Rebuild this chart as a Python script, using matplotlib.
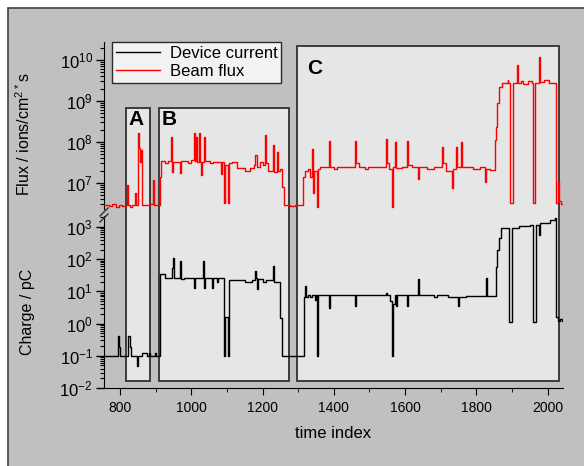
import matplotlib
matplotlib.use("Agg")
import matplotlib.pyplot as plt
from matplotlib.patches import Rectangle
from matplotlib.lines import Line2D
from matplotlib.ticker import LogLocator, FixedLocator, MultipleLocator

plt.rcParams['font.family'] = ['Liberation Sans', 'DejaVu Sans']
plt.rcParams['mathtext.default'] = 'regular'

# ---------------- DATA ----------------
flux_t = [755, 770, 778, 790, 798, 806, 814, 820, 822, 828, 834, 842, 845, 850, 853, 856, 859, 862,
          884, 893, 895, 912, 915, 926, 935, 943, 946, 949, 968, 970, 990, 1000, 1008, 1010, 1013,
          1016, 1022, 1024, 1027, 1030, 1036, 1039, 1052, 1060, 1083, 1086, 1092, 1095, 1103, 1106,
          1115, 1128, 1151, 1165, 1175, 1179, 1184, 1193, 1200, 1207, 1210, 1215, 1229, 1232, 1240,
          1243, 1249, 1254, 1260, 1277, 1290, 1313, 1319, 1327, 1333, 1339, 1341, 1344, 1353, 1356,
          1361, 1386, 1388, 1400, 1410, 1459, 1462, 1470, 1487, 1495, 1546, 1549, 1555, 1563, 1566,
          1571, 1574, 1590, 1605, 1608, 1620, 1636, 1639, 1660, 1680, 1703, 1706, 1715, 1731, 1734,
          1742, 1745, 1757, 1760, 1790, 1810, 1824, 1827, 1838, 1852, 1855, 1858, 1864, 1872, 1888,
          1890, 1893, 1902, 1914, 1916, 1925, 1932, 1945, 1956, 1959, 1964, 1975, 1978, 1990, 2005,
          2023, 2028, 2031, 2038, 2048]
flux_v = [2.9e6, 2.7e6, 3.0e6, 2.6e6, 2.9e6, 2.7e6, 2.9e6, 8.9e6, 2.9e6, 2.6e6, 2.9e6, 5.7e6, 2.9e6,
          1.65e8, 7e7, 3.3e7, 6.4e7, 2.9e6,
          3.0e6, 1.2e7, 2.9e6, 1.4e7, 3.4e7, 3.1e7, 3.4e7, 1.3e8, 1.85e7, 3.3e7, 1.75e7, 3.4e7, 3.1e7,
          3.6e7, 1.65e8, 3.4e7, 1.3e8,
          3.3e7, 1.65e8, 3.3e7, 1.57e7, 3.3e7, 1.3e8, 3.5e7, 3.0e7, 3.3e7, 1.6e7, 3.2e7, 3.3e6, 2.8e7,
          3.3e6, 3.0e7,
          3.3e7, 2.3e7, 2.0e7, 2.3e7, 2.7e7, 4.8e7, 2.5e7, 3.3e7, 2.7e7, 1.48e8, 3e7, 2.0e7, 8.4e7,
          1.8e7, 5.7e7,
          2.0e7, 2.2e7, 8e6, 2.9e6, 2.7e6, 2.9e6, 1.4e7, 1.9e7, 2.2e7, 1.4e7, 6.8e7, 5.7e6, 2.0e7,
          2.6e6, 2.2e7,
          2.45e7, 1.06e8, 2.45e7, 2.2e7, 2.45e7, 1.06e8, 3.0e7, 2.45e7, 2.2e7, 2.45e7, 1.18e8, 3e7,
          2.2e7, 2.6e6, 2.45e7,
          1.0e8, 2.3e7, 2.45e7, 1.06e8, 2.8e7, 2.45e7, 1.25e7, 2.45e7, 2.2e7, 2.45e7, 7.5e7, 3.0e7,
          2.0e7, 7.5e6, 2.2e7,
          7.5e7, 2.45e7, 1.0e8, 2.45e7, 2.2e7, 2.45e7, 1.06e7, 2.2e7, 2.07e7, 1.1e8, 2.3e8, 8.9e8,
          2.2e9, 2.75e9, 3.3e9,
          2.75e9, 3.2e6, 2.75e9, 7.6e9, 2.75e9, 3.1e9, 2.6e9, 3.0e9, 2.75e9, 3.2e6, 2.75e9, 1.17e10,
          2.9e9, 3.2e9, 2.75e9,
          3.2e6, 1.06e7, 3.6e6, 3.0e6, 3.0e6]

charge_t = [755, 794, 797, 800, 822, 828, 831, 848, 851, 862, 876, 880, 884, 898, 901, 912, 925, 946,
            949, 952, 968, 971, 980, 1008, 1011, 1033, 1036, 1039, 1058, 1061, 1072, 1075, 1092, 1094,
            1102, 1105, 1150, 1170, 1179, 1182, 1184, 1187, 1200, 1210, 1229, 1232, 1249, 1254, 1316,
            1319, 1322, 1327, 1333, 1340, 1347, 1351, 1353, 1356, 1386, 1389, 1459, 1462, 1546, 1549,
            1558, 1563, 1566, 1571, 1574, 1577, 1605, 1608, 1636, 1639, 1680, 1690, 1720, 1748, 1751,
            1770, 1827, 1830, 1854, 1858, 1864, 1870, 1891, 1899, 1920, 1950, 1959, 1967, 1975, 1978,
            2006, 2020, 2023, 2028, 2034, 2040, 2048]
charge_v = [0.1, 0.41, 0.19, 0.1, 0.41, 0.19, 0.1, 0.049, 0.1, 0.12, 0.1, 0.12, 0.1, 0.12, 0.1, 36,
            27, 52, 113, 27, 85, 25, 27, 12.5, 27, 85, 12.5, 27, 12.5, 27, 20, 27, 0.1, 1.6, 0.1, 22,
            20, 22, 42, 27, 11.7, 25, 19, 22, 60, 19, 1.5, 0.1, 6.6, 14.5, 6.6, 8, 6.6, 8, 5.5, 7.6,
            0.1, 7.6, 3.0, 7.6, 3.4, 7.6, 9, 7.6, 5, 0.1, 4, 7.6, 3.4, 7.6, 3.4, 7.6, 25, 7.6, 6.6,
            7.6, 6.6, 3.4, 6.6, 7.1, 26, 7.1, 56, 200, 470, 950, 1.1, 950, 1050, 1180, 1.1, 1180, 580,
            1300, 1700, 1950, 1.6, 1.2, 1.4, 1.2, 1.3]

# regions A, B, C: start/end in time index, top in flux units, bottom in charge units
region_names = ['A', 'B', 'C']
region_start = [817, 909, 1296]
region_end = [884, 1274, 2031]
region_top = [6.7e8, 6.7e8, 2.2e10]
region_bottom = [0.017, 0.017, 0.017]
region_label_x = [845, 937, 1347]
region_label_y = [3.5e8, 3.5e8, 6.3e9]

# ---------------- FIGURE ----------------
W, H = 584, 466
fig = plt.figure(figsize=(W / 100, H / 100), dpi=100, facecolor='white')

# gray panel behind everything
fig.patches.append(Rectangle((8 / W, -0.01), 1.0, 1 - 8 / H + 0.01, transform=fig.transFigure,
                             facecolor='#c0c0c0', edgecolor='#404040', lw=1.2, zorder=-2))

left, right = 104 / W, 563 / W
ax_top = fig.add_axes([left, 1 - 209 / H, right - left, (209 - 42) / H], facecolor='none')
ax_bot = fig.add_axes([left, 1 - 388 / H, right - left, (388 - 216) / H], facecolor='none',
                      sharex=ax_top)
ax_top.set_zorder(2)
ax_bot.set_zorder(1)

ax_top.set_yscale('log')
ax_bot.set_yscale('log')
ax_top.set_xlim(755, 2043)
ax_top.set_ylim(2.3e6, 2.75e10)
ax_bot.set_ylim(1e-2, 2.2e3)

ax_top.step(flux_t, flux_v, where='post', color='#ff0000', lw=1.0, zorder=3)
ax_bot.step(charge_t, charge_v, where='post', color='black', lw=1.0, zorder=3)

for ax in (ax_top, ax_bot):
    ax.spines['top'].set_visible(False)
    ax.spines['right'].set_visible(False)
    ax.tick_params(axis='y', which='major', direction='out', length=6, width=1, labelsize=12, pad=2)
    ax.tick_params(axis='y', which='minor', direction='out', length=3, width=0.8)
    ax.yaxis.set_minor_locator(LogLocator(base=10, subs=range(2, 10), numticks=20))
ax_top.spines['bottom'].set_visible(False)
ax_top.tick_params(axis='x', which='both', bottom=False, labelbottom=False)
ax_top.yaxis.set_major_locator(FixedLocator([1e7, 1e8, 1e9, 1e10]))
ax_bot.yaxis.set_major_locator(FixedLocator([1e-2, 1e-1, 1e0, 1e1, 1e2, 1e3]))

ax_bot.xaxis.set_major_locator(MultipleLocator(200))
ax_bot.xaxis.set_minor_locator(MultipleLocator(100))
ax_bot.tick_params(axis='x', which='major', direction='out', length=5, labelsize=10, pad=4)
ax_bot.tick_params(axis='x', which='minor', direction='out', length=3)
ax_bot.set_xlabel('time index', fontsize=12, labelpad=8)

ax_top.set_ylabel('Flux / ions/cm$^{2*}$s', fontsize=11.5)
ax_top.yaxis.set_label_coords(-0.155, 0.45)
ax_bot.set_ylabel('Charge / pC', fontsize=11.5)
ax_bot.yaxis.set_label_coords(-0.15, 0.44)

# region boxes, drawn in figure coords so they span both panels
fig.canvas.draw()
to_fig = fig.transFigure.inverted()
for name, x0, x1, top, bot, lx, ly in zip(region_names, region_start, region_end, region_top,
                                          region_bottom, region_label_x, region_label_y):
    fx0, fy1 = to_fig.transform(ax_top.transData.transform((x0, top)))
    fx1, _ = to_fig.transform(ax_top.transData.transform((x1, top)))
    _, fy0 = to_fig.transform(ax_bot.transData.transform((x0, bot)))
    fig.patches.append(Rectangle((fx0, fy0), fx1 - fx0, fy1 - fy0, transform=fig.transFigure,
                                 facecolor='#e6e6e6', edgecolor='#303030', lw=1.3, zorder=-1))
    ax_top.text(lx, ly, name, fontsize=15, fontweight='bold', ha='center', va='center', zorder=4)

# axis break marks
for dy in (0, 6):
    brk = Line2D([100 / W, 108 / W], [1 - (216 + dy) / H, 1 - (208 + dy) / H],
                 color='#303030', lw=1.0, zorder=5)
    fig.add_artist(brk)

handles = [Line2D([], [], color='black', lw=1.0), Line2D([], [], color='#ff0000', lw=1.0)]
leg = ax_top.legend(handles, ['Device current', 'Beam flux'], loc='upper left',
                    bbox_to_anchor=(0.0175, 1.0), borderaxespad=0, fontsize=12, frameon=True,
                    fancybox=False, edgecolor='black', handlelength=2.6, borderpad=0.25,
                    labelspacing=0.15, handletextpad=0.6)
leg.get_frame().set_linewidth(1.0)
leg.set_zorder(5)

fig.savefig('out.png', dpi=100, facecolor=fig.get_facecolor())
